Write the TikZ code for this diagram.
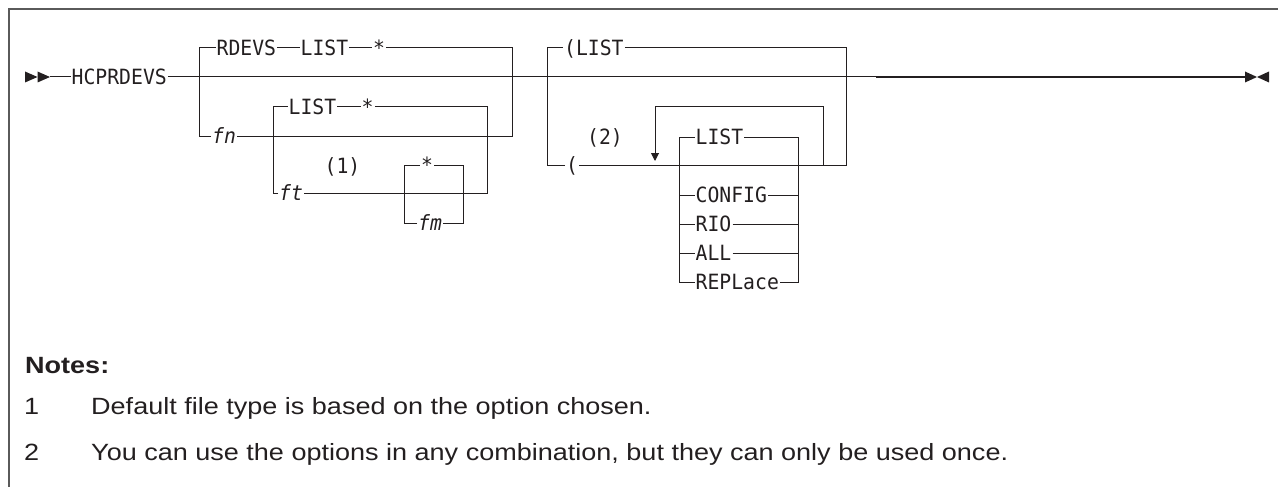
\documentclass[tikz,border=0pt]{standalone}
\usepackage{fontspec}
\usetikzlibrary{arrows.meta}
\newfontfamily\dmono[FakeStretch=0.94]{DejaVu Sans Mono}
\newfontfamily\notefont[FakeStretch=1.15]{Liberation Sans}
\definecolor{ink}{HTML}{231F20}
\definecolor{framec}{HTML}{5A5A5A}
\tikzset{
  kw/.style={font=\dmono\fontsize{21}{25}\selectfont, text=ink, inner ysep=0pt, inner xsep=1pt,
             text height=15.3pt, text depth=0pt, anchor=west},
  var/.style={kw, font=\dmono\itshape\fontsize{21}{25}\selectfont},
  ref/.style={kw, anchor=center},
  rail/.style={draw=ink, line width=1pt},
  note/.style={font=\notefont\fontsize{23.5}{28}\selectfont, text=ink, inner sep=0pt, anchor=base west},
}
\begin{document}
\begin{tikzpicture}[x=1pt,y=-1pt]
\useasboundingbox (0,0) rectangle (1278,487);
% frame
\draw[framec, line width=1.5pt] (9,487) -- (9,9) -- (1278,9);

% coordinates
\coordinate (start) at (50,77);
\coordinate (endm) at (1245,77);
\coordinate (b1tl) at (199,48);  \coordinate (b1bl) at (199,136);
\coordinate (b1tr) at (512,48);  \coordinate (b1br) at (512,136);
\coordinate (i1tl) at (273,107); \coordinate (i1bl) at (273,193);
\coordinate (i1tr) at (487,107); \coordinate (i1br) at (487,193);
\coordinate (bxtl) at (404,165); \coordinate (bxbl) at (404,223);
\coordinate (bxtr) at (463,165); \coordinate (bxbr) at (463,223);
\coordinate (b2tl) at (547,48);  \coordinate (b2bl) at (547,165);
\coordinate (b2tr) at (846,48);  \coordinate (b2br) at (846,165);
\coordinate (lpR) at (823,165);  \coordinate (lpRT) at (823,107);
\coordinate (lpLT) at (655,107); \coordinate (lpA) at (655,161);
\coordinate (optl) at (679,137); \coordinate (opbl) at (679,282);
\coordinate (optr) at (798,137); \coordinate (opbr) at (798,282);

% nodes
\node[kw] (hcp) at (70.5,77) {HCPRDEVS};
\node[kw] (rdevs) at (215.5,48) {RDEVS};
\node[kw] (list1) at (299.5,48) {LIST};
\node[kw] (star1) at (372,48) {*};
\node[var] (fn) at (211,136) {fn};
\node[kw] (list2) at (287.5,107) {LIST};
\node[kw] (star2) at (360.5,107) {*};
\node[var] (ft) at (278,193) {ft};
\node[ref] (n1) at (342.5,166) {(1)};
\node[ref] (star3) at (427,165) {*};
\node[var] (fm) at (417,223) {fm};
\node[kw] (plist) at (563,48) {(LIST};
\node[kw] (paren) at (565,165) {(};
\node[ref] (n2) at (605,137) {(2)};
\node[kw] (olist) at (694.5,137) {LIST};
\node[kw] (config) at (694.5,195) {CONFIG};
\node[kw] (rio) at (694.5,224) {RIO};
\node[kw] (all) at (694.5,253) {ALL};
\node[kw] (repl) at (694.5,282) {REPLace};

% main line
\draw[rail] (start) -- (hcp.west);
\draw[rail] (hcp.east) -- (endm);
\draw[ink, line width=1.6pt] (876,77) -- (endm);
% start / end markers
\fill[ink] (25,71.5) -- (37.5,77) -- (25,82.5) -- cycle;
\fill[ink] (37.5,71.5) -- (start) -- (37.5,82.5) -- cycle;
\fill[ink] (1245,71.5) -- (1257,77) -- (1245,82.5) -- cycle;
\fill[ink] (1269,71.5) -- (1257,77) -- (1269,82.5) -- cycle;

% branch 1
\draw[rail] (b1bl) -- (b1tl) -- (rdevs.west);
\draw[rail] (rdevs.east) -- (list1.west) (list1.east) -- (star1.west);
\draw[rail] (star1.east) -- (b1tr) -- (b1br) -- (fn.east);
\draw[rail] (fn.west) -- (b1bl);
% inner branch
\draw[rail] (i1bl) -- (i1tl) -- (list2.west);
\draw[rail] (list2.east) -- (star2.west);
\draw[rail] (star2.east) -- (i1tr) -- (i1br) -- (ft.east);
\draw[rail] (ft.west) -- (i1bl);
% small box
\draw[rail] (bxbl) -- (bxtl) -- (star3.west);
\draw[rail] (star3.east) -- (bxtr) -- (bxbr) -- (fm.east);
\draw[rail] (fm.west) -- (bxbl);

% branch 2
\draw[rail] (b2bl) -- (b2tl) -- (plist.west);
\draw[rail] (plist.east) -- (b2tr) -- (b2br) -- (paren.east);
\draw[rail] (paren.west) -- (b2bl);
% repeat loop
\draw[rail, -{Triangle[width=8pt,length=8pt]}] (lpR) -- (lpRT) -- (lpLT) -- (lpA);
% options
\draw[rail] (opbl) -- (optl) -- (olist.west);
\draw[rail] (olist.east) -- (optr) -- (opbr) -- (repl.east);
\draw[rail] (repl.west) -- (opbl);
\draw[rail] (optl |- config.west) -- (config.west) (config.east) -- (optr |- config.east);
\draw[rail] (optl |- rio.west) -- (rio.west) (rio.east) -- (optr |- rio.east);
\draw[rail] (optl |- all.west) -- (all.west) (all.east) -- (optr |- all.east);

% notes
\node[note, font=\notefont\bfseries\fontsize{23.5}{28}\selectfont] (notes) at (25,373) {Notes:};
\node[note] (k1) at (24,414) {1};
\node[note] (t1) at (91,414) {Default file type is based on the option chosen.};
\node[note] (k2) at (24,460) {2};
\node[note] (t2) at (91,460) {You can use the options in any combination, but they can only be used once.};
\end{tikzpicture}
\end{document}
